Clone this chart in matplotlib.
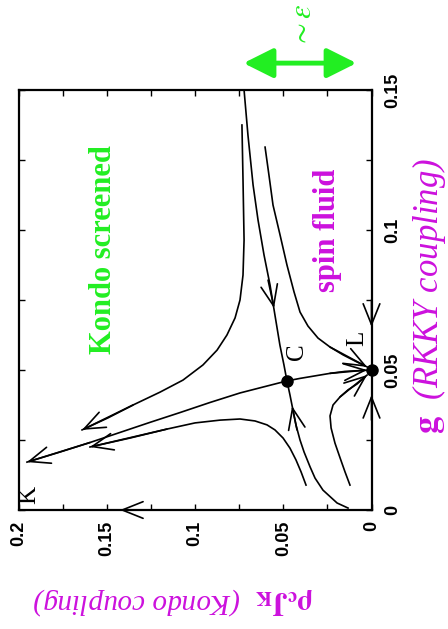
import matplotlib
matplotlib.use("Agg")
import matplotlib.pyplot as plt
import numpy as np

plt.rcParams['font.family'] = ['Liberation Serif', 'DejaVu Serif']
plt.rcParams['mathtext.fontset'] = 'stix'

# flow lines, (rho_c J_K, g)
sep_top_J = [0.0722, 0.0700, 0.0671, 0.0643, 0.0609, 0.0575, 0.0547, 0.0519, 0.0496, 0.0479]
sep_top_g = [0.1500, 0.1339, 0.1161, 0.1036, 0.0911, 0.0804, 0.0696, 0.0589, 0.0518, 0.0461]
sep_bot_J = [0.0133, 0.0195, 0.0275, 0.0320, 0.0348, 0.0382, 0.0405, 0.0428, 0.0445, 0.0462, 0.0479]
sep_bot_g = [0.0007, 0.0025, 0.0071, 0.0114, 0.0154, 0.0207, 0.0250, 0.0304, 0.0357, 0.0411, 0.0461]
toL_J = [0.0479, 0.0405, 0.0320, 0.0235, 0.0150, 0.0]
toL_g = [0.0461, 0.0470, 0.0479, 0.0488, 0.0495, 0.0500]
toK_J = [0.0479, 0.0603, 0.0745, 0.0915, 0.1085, 0.1255, 0.1425, 0.1595, 0.1765, 0.1952]
toK_g = [0.0461, 0.0441, 0.0418, 0.0384, 0.0348, 0.0313, 0.0277, 0.0241, 0.0207, 0.0171]
up_left_J = [0.0734, 0.0728, 0.0722, 0.0728, 0.0745, 0.0773, 0.0819, 0.0875, 0.0955,
             0.1068, 0.1198, 0.1351, 0.1493, 0.1640]
up_left_g = [0.1375, 0.1179, 0.0964, 0.0839, 0.0750, 0.0686, 0.0625, 0.0571, 0.0518,
             0.0464, 0.0421, 0.0375, 0.0329, 0.0286]
up_right_J = [0.0603, 0.0581, 0.0558, 0.0518, 0.0479, 0.0439, 0.0405, 0.0360, 0.0303,
              0.0235, 0.0161, 0.0093, 0.0025]
up_right_g = [0.1296, 0.1196, 0.1089, 0.0982, 0.0875, 0.0779, 0.0707, 0.0657, 0.0614,
              0.0582, 0.0554, 0.0532, 0.0511]
low_right_J = [0.0122, 0.0150, 0.0178, 0.0207, 0.0229, 0.0235, 0.0218, 0.0178, 0.0133, 0.0082, 0.0025]
low_right_g = [0.0089, 0.0136, 0.0186, 0.0239, 0.0293, 0.0336, 0.0375, 0.0404, 0.0429, 0.0450, 0.0482]
low_left_J = [0.0371, 0.0399, 0.0428, 0.0462, 0.0501, 0.0547, 0.0592, 0.0660, 0.0745,
              0.0858, 0.1000, 0.1159, 0.1368, 0.1595]
low_left_g = [0.0089, 0.0136, 0.0179, 0.0221, 0.0257, 0.0286, 0.0304, 0.0318, 0.0325,
              0.0321, 0.0311, 0.0289, 0.0257, 0.0225]

# arrow heads: (tail J, tail g, tip J, tip g)
arrows = [
    (0.0586, 0.0821, 0.0552, 0.0721),
    (0.0422, 0.0286, 0.0450, 0.0371),
    (0.0235, 0.0488, 0.0025, 0.0500),
    (0.1595, 0.0241, 0.1952, 0.0171),
    (0.1351, 0.0375, 0.1640, 0.0286),
    (0.1159, 0.0289, 0.1595, 0.0225),
    (0.0235, 0.0582, 0.0025, 0.0511),
    (0.0178, 0.0404, 0.0025, 0.0482),
    (0.1255, 0.0, 0.1425, 0.0),
    (0.0, 0.0750, 0.0, 0.0654),
    (0.0, 0.0321, 0.0, 0.0411),
]

fixed_J = [0.0479, 0.0]
fixed_g = [0.0461, 0.0500]

jk_ticks = [0, 0.025, 0.05, 0.075, 0.1, 0.125, 0.15, 0.175, 0.2]
jk_labels = ['0', '', '0.05', '', '0.1', '', '0.15', '', '0.2']
g_ticks = [0, 0.025, 0.05, 0.075, 0.1, 0.125, 0.15]
g_labels = ['0', '', '0.05', '', '0.1', '', '0.15']

green = '#22ee22'
magenta = '#cc11dd'

fig = plt.figure(figsize=(4.48, 6.29), dpi=100)
ax = fig.add_axes([18.5 / 448, 1 - 510 / 629, 353 / 448, 420 / 629])
ax.set_xlim(0.2, 0)
ax.set_ylim(0, 0.15)

for J, g in [(sep_top_J, sep_top_g), (sep_bot_J, sep_bot_g), (toL_J, toL_g),
             (toK_J, toK_g), (up_left_J, up_left_g), (up_right_J, up_right_g),
             (low_right_J, low_right_g), (low_left_J, low_left_g)]:
    ax.plot(J, g, color='black', lw=1.2, solid_joinstyle='round')

for tJ, tg, hJ, hg in arrows:
    ax.annotate('', xy=(hJ, hg), xytext=(tJ, tg), annotation_clip=False,
                arrowprops=dict(arrowstyle='->,head_length=0.75,head_width=0.3',
                                color='black', lw=1.2, shrinkA=0, shrinkB=0,
                                mutation_scale=20))

ax.plot(fixed_J, fixed_g, 'o', color='black', markersize=8, clip_on=False, zorder=5)

ax.text(0.194, 0.0054, 'K', fontsize=18, rotation=90, ha='center', va='center')
ax.text(0.0422, 0.0564, 'C', fontsize=18, rotation=90, ha='center', va='center')
ax.text(0.0082, 0.0614, 'L', fontsize=18, rotation=90, ha='center', va='center')

ax.text(0.152, 0.0929, 'Kondo screened', fontsize=22, fontweight='bold', color=green,
        rotation=90, ha='center', va='center')
ax.text(0.0252, 0.1, 'spin fluid', fontsize=22, fontweight='bold', color=magenta,
        rotation=90, ha='center', va='center')

ax.set_xticks(jk_ticks)
ax.set_xticklabels(jk_labels)
ax.set_yticks(g_ticks)
ax.set_yticklabels(g_labels)
ax.yaxis.tick_right()
ax.tick_params(direction='in', length=4, width=1, top=True, bottom=True,
               left=True, right=True, labelleft=False, labelright=True)
ax.tick_params(axis='x', pad=8)
ax.tick_params(axis='y', pad=9)
for lbl in ax.get_xticklabels():
    lbl.set_rotation(90)
    lbl.set_fontfamily('Liberation Sans')
    lbl.set_fontweight('bold')
    lbl.set_fontsize(13)
for lbl in ax.get_yticklabels():
    lbl.set_rotation(90)
    lbl.set_va('center')
    lbl.set_fontfamily('Liberation Sans')
    lbl.set_fontweight('bold')
    lbl.set_fontsize(13)
for s in ax.spines.values():
    s.set_linewidth(1.6)

# width of the window, drawn above the frame
ax.annotate('', xy=(0.0085, 0.1596), xytext=(0.0725, 0.1596), annotation_clip=False,
            arrowprops=dict(arrowstyle='<|-|>,head_length=0.9,head_width=0.45',
                            color=green, lw=3.5, shrinkA=0, shrinkB=0, mutation_scale=20))
fig.text(303 / 448, 1 - 3 / 629, r'$\sim\varepsilon$', fontsize=22, color=green,
         rotation=90, ha='center', va='top')

fig.text(173 / 448, 1 - 601 / 629, r'$\mathbf{\rho_cJ_K}$  (Kondo coupling)',
         fontsize=21, fontstyle='italic', color=magenta, rotation=180,
         ha='center', va='center')
fig.text(429 / 448, 1 - 296 / 629, r'$\mathbf{g}$  (RKKY coupling)',
         fontsize=25, fontstyle='italic', color=magenta, rotation=90,
         ha='center', va='center')

fig.savefig('out.png', dpi=100)
